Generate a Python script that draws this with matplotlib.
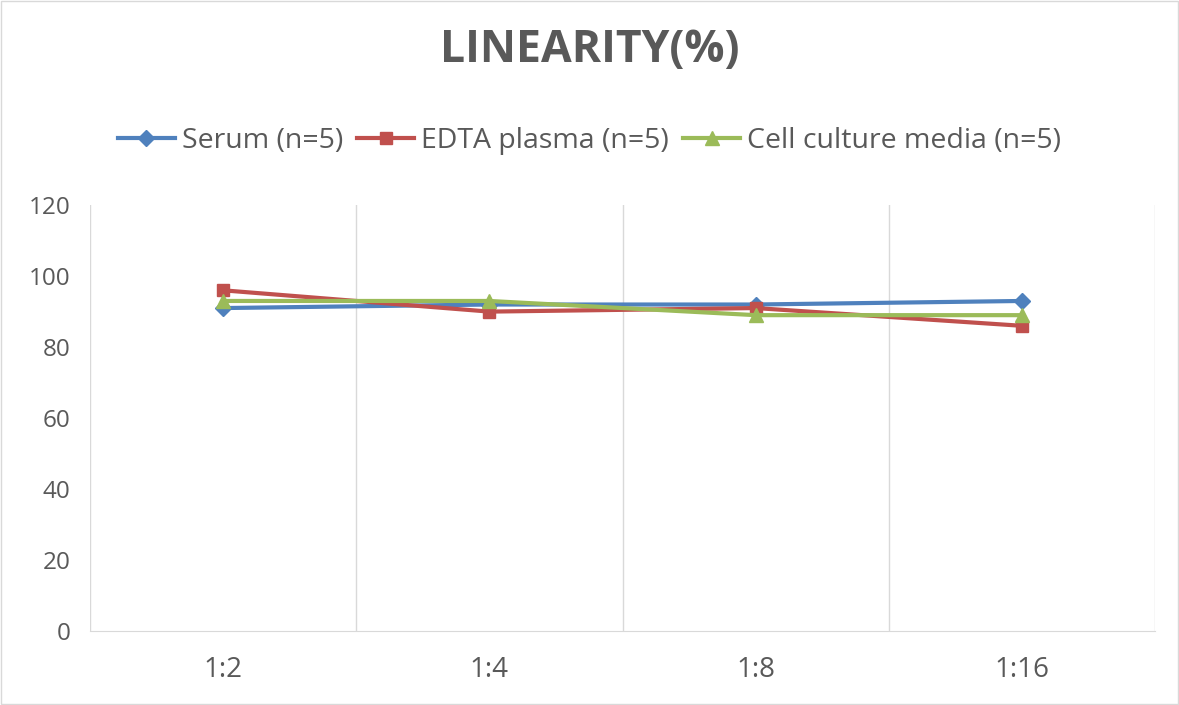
import matplotlib.pyplot as plt
from matplotlib.ticker import FixedLocator

plt.rcParams['font.family'] = ['Open Sans', 'DejaVu Sans']

dilutions = ['1:2', '1:4', '1:8', '1:16']
serum = [91, 92, 92, 93]
edta_plasma = [96, 90, 91, 86]
cell_media = [93, 93, 89, 89]

text_color = '#595959'
grid_color = '#d9d9d9'

fig = plt.figure(figsize=(11.79, 7.05), dpi=100)
ax = fig.add_axes([0.0763, 0.105, 0.9034, 0.604])

x = range(len(dilutions))
ax.plot(x, serum, color='#4f81bd', marker='D', markersize=8, linewidth=3,
        label='Serum (n=5)')
ax.plot(x, edta_plasma, color='#c0504d', marker='s', markersize=9, linewidth=3,
        label='EDTA plasma (n=5)')
ax.plot(x, cell_media, color='#9bbb59', marker='^', markersize=10, linewidth=3,
        label='Cell culture media (n=5)')

ax.set_xlim(-0.5, len(dilutions) - 0.5)
ax.set_ylim(0, 120)
ax.set_yticks(range(0, 121, 20))
ax.set_xticks(list(x))
ax.set_xticklabels(dilutions)
ax.xaxis.set_minor_locator(FixedLocator([i - 0.5 for i in range(len(dilutions) + 1)]))
ax.grid(which='minor', axis='x', color=grid_color, linewidth=1)
ax.tick_params(which='both', length=0)
ax.tick_params(axis='x', labelsize=20, colors=text_color, pad=18)
ax.tick_params(axis='y', labelsize=17.5, colors=text_color, pad=14)

for side in ['top', 'right', 'left']:
    ax.spines[side].set_visible(False)
ax.spines['bottom'].set_color(grid_color)

fig.text(0.5, 0.928, 'LINEARITY(%)', ha='center', va='center', fontsize=32,
         fontweight='bold', color=text_color)
fig.legend(loc='center', bbox_to_anchor=(0.5, 0.8), ncol=3, frameon=False,
           fontsize=20.5, labelcolor=text_color, handlelength=2.0,
           handletextpad=0.25, columnspacing=0.5)

fig.patches.append(plt.Rectangle((0.001, 0.001), 0.998, 0.998, transform=fig.transFigure,
                                 fill=False, edgecolor=grid_color, linewidth=1))

fig.savefig('out.png', dpi=100)
